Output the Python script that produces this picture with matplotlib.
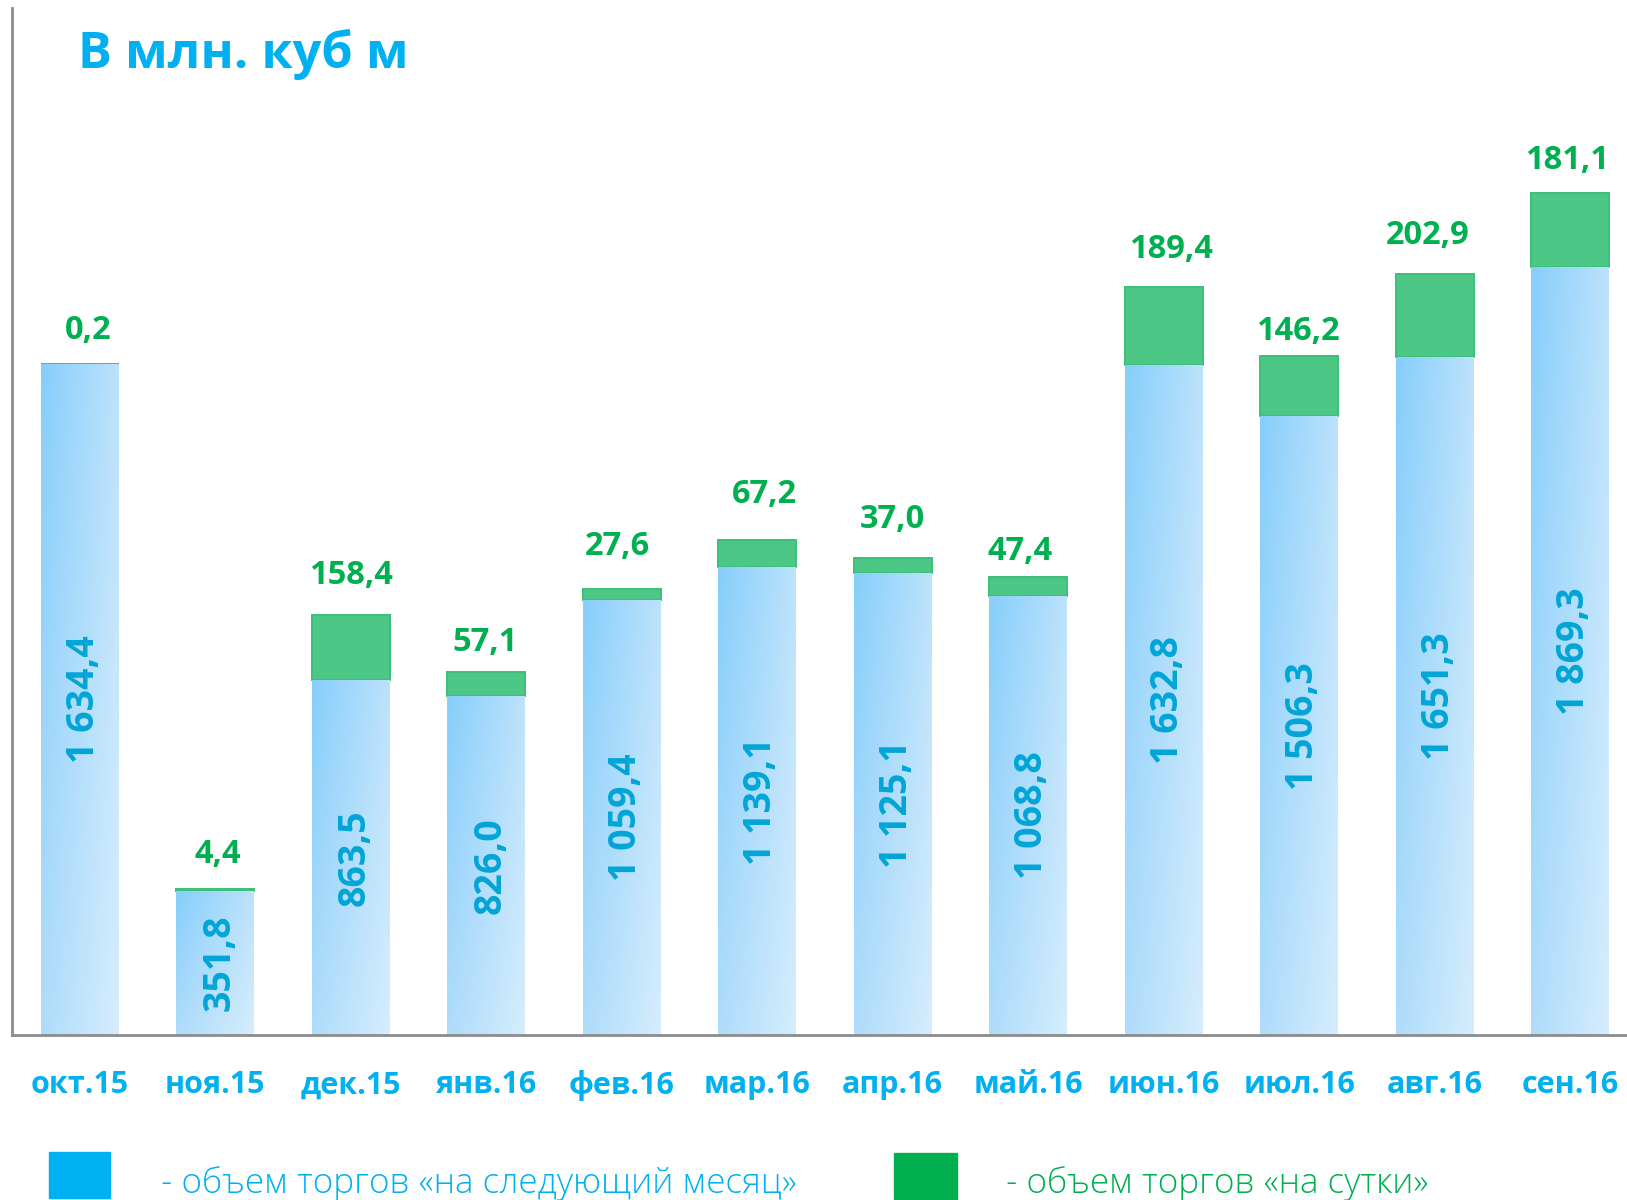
import numpy as np
import matplotlib
matplotlib.use("Agg")
import matplotlib.pyplot as plt
from matplotlib.patches import Rectangle

plt.rcParams['font.family'] = ['Open Sans', 'DejaVu Sans']

months = ['окт.15', 'ноя.15', 'дек.15', 'янв.16', 'фев.16', 'мар.16',
          'апр.16', 'май.16', 'июн.16', 'июл.16', 'авг.16', 'сен.16']
next_month = [1634.4, 351.8, 863.5, 826.0, 1059.4, 1139.1,
              1125.1, 1068.8, 1632.8, 1506.3, 1651.3, 1869.3]
day_ahead = [0.2, 4.4, 158.4, 57.1, 27.6, 67.2,
             37.0, 47.4, 189.4, 146.2, 202.9, 181.1]

title = 'В млн. куб м'
legend_blue = '- объем торгов «на следующий месяц»'
legend_green = '- объем торгов «на сутки»'

# hand nudges of the green labels (points), as placed in the original slide
nudge_x = [6, 2, 0, -1, -3, 5, 0, -6, 5, -1, -5, -2]
nudge_y = [1.5, 2, 6, -1, 7.5, 10, 5, -4.5, 4.5, -5, 5, 1]

BLUE_TXT = '#00B0F0'
BLUE_IN = '#00A5D6'
GREEN_TXT = '#00B050'
GREEN_BAR = '#4DC785'


def fmt(v):
    return f"{v:,.1f}".replace(',', ' ').replace('.', ',')


# corner colours of the bar gradient: top-left, top-right, bottom-left, bottom-right
corners = np.array([[0x86, 0xCE, 0xFC], [0xBC, 0xE2, 0xFB],
                    [0xAE, 0xDC, 0xFA], [0xD6, 0xED, 0xFD]]) / 255.0
u = np.linspace(0, 1, 60)[None, :, None]
v = np.linspace(0, 1, 200)[:, None, None]
grad = ((1 - u) * (1 - v) * corners[0] + u * (1 - v) * corners[1]
        + (1 - u) * v * corners[2] + u * v * corners[3])

fig = plt.figure(figsize=(16.27, 12), dpi=100)
ax = fig.add_axes([0.0074, 0.1375, 0.9926, 0.8555])

x = np.arange(len(months))
blue_bars = ax.bar(x, next_month, width=0.575, color='none', edgecolor='none')
green_bars = ax.bar(x, day_ahead, width=0.575, bottom=next_month,
                    color=GREEN_BAR, edgecolor='#3CBF78', linewidth=1.4)

for p in blue_bars:
    x0, y0 = p.get_x(), p.get_y()
    w, h = p.get_width(), p.get_height()
    im = ax.imshow(grad, extent=[x0, x0 + w, y0, y0 + h], origin='upper',
                   aspect='auto', zorder=1, interpolation='bilinear')
    im.set_clip_path(p)

for i, (b, g) in enumerate(zip(next_month, day_ahead)):
    ax.annotate(fmt(b), (i, b / 2), xytext=(3, 0), textcoords='offset points',
                rotation=90, ha='center', va='center', rotation_mode='anchor',
                fontsize=27, fontweight='bold', color=BLUE_IN, zorder=3)
    ax.annotate(fmt(g), (i, b + g), xytext=(nudge_x[i], 16.5 + nudge_y[i]),
                textcoords='offset points', ha='center', va='baseline',
                fontsize=23.5, fontweight='bold', color=GREEN_TXT)

ax.set_xlim(-0.5, 11.42)
ax.set_ylim(0, 2500)
ax.set_xticks(x)
ax.set_xticklabels(months, fontsize=22, fontweight='bold', color=BLUE_TXT)
ax.tick_params(axis='x', length=0, pad=25.5)
ax.set_yticks([])
for s in ['top', 'right']:
    ax.spines[s].set_visible(False)
for s in ['left', 'bottom']:
    ax.spines[s].set_color('#8C8C8C')
    ax.spines[s].set_linewidth(2)

fig.text(78 / 1627, 1 - 68 / 1200, title, fontsize=36.4, fontweight='bold',
         color=BLUE_TXT, va='baseline', ha='left')

fig.patches.append(Rectangle((49 / 1627, 2 / 1200), 61 / 1627, 46 / 1200,
                             transform=fig.transFigure, color=BLUE_TXT))
fig.patches.append(Rectangle((894 / 1627, 1 / 1200), 63 / 1627, 46 / 1200,
                             transform=fig.transFigure, color=GREEN_TXT))
fig.text(161 / 1627, 1 - 1193 / 1200, legend_blue, fontsize=25.3,
         fontweight='light', color=BLUE_TXT, va='baseline', ha='left')
fig.text(1006 / 1627, 1 - 1193 / 1200, legend_green, fontsize=25.3,
         fontweight='light', color=GREEN_TXT, va='baseline', ha='left')

fig.savefig('out.png', dpi=100)
